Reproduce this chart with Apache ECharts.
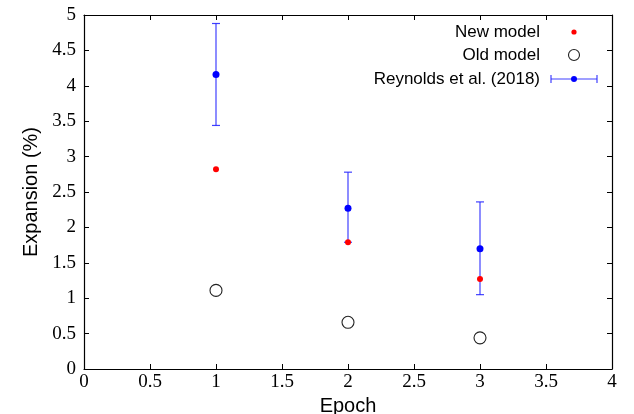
<!DOCTYPE html>
<html><head><meta charset="utf-8">
<script src="https://cdn.jsdelivr.net/npm/echarts@6/dist/echarts.min.js"></script>
<style>html,body{margin:0;padding:0;background:#fff}#c{width:634px;height:414px}</style>
</head><body><div id="c"></div>
<script>
const epochs = [1, 2, 3];
const newModel = [2.82, 1.79, 1.27];
const oldModel = [1.11, 0.66, 0.44];
const reynolds = [4.16, 2.27, 1.70];
const reynoldsLow = [3.44, 1.79, 1.05];
const reynoldsHigh = [4.88, 2.78, 2.36];
const legendNames = ['New model', 'Old model', 'Reynolds et al. (2018)'];

const chart = echarts.init(document.getElementById('c'), null, {renderer: 'canvas'});
const serif = 'Liberation Serif';
const sans = 'Liberation Sans';
const grid = {left: 84, right: 22, top: 15, bottom: 45, outerBoundsMode: 'none', containLabel: false};
const tick = {show: true, inside: true, length: 5, lineStyle: {color: '#000', width: 1}};
const axLine = {show: true, onZero: false, lineStyle: {color: '#000', width: 1.2}};
const errColor = 'rgba(30,30,255,0.85)';
const legFont = '17px "Liberation Sans"';

const errData = epochs.map((e, i) => [e, reynoldsLow[i], reynoldsHigh[i]]);

const option = {
  animation: false,
  grid: grid,
  xAxis: [{
    type: 'value', min: 0, max: 4, interval: 0.5, position: 'bottom',
    axisLine: axLine, axisTick: tick, splitLine: {show: false},
    axisLabel: {color: '#000', fontFamily: serif, fontSize: 19, margin: 4},
    name: 'Epoch', nameLocation: 'middle', nameGap: 23,
    nameTextStyle: {color: '#000', fontFamily: sans, fontSize: 20}
  }, {
    type: 'value', min: 0, max: 4, interval: 0.5, position: 'top',
    axisLine: axLine, axisTick: tick, splitLine: {show: false}, axisLabel: {show: false}
  }],
  yAxis: [{
    type: 'value', min: 0, max: 5, interval: 0.5, position: 'left',
    axisLine: axLine, axisTick: tick, splitLine: {show: false},
    axisLabel: {color: '#000', fontFamily: serif, fontSize: 19, margin: 8},
    name: 'Expansion (%)', nameLocation: 'middle', nameGap: 43,
    nameTextStyle: {color: '#000', fontFamily: sans, fontSize: 20}
  }, {
    type: 'value', min: 0, max: 5, interval: 0.5, position: 'right',
    axisLine: axLine, axisTick: tick, splitLine: {show: false}, axisLabel: {show: false}
  }],
  series: [{
    name: legendNames[2] + ' err', type: 'custom',
    data: errData, z: 2,
    renderItem: function (params, api) {
      const x = api.value(0);
      const lo = api.coord([x, api.value(1)]);
      const hi = api.coord([x, api.value(2)]);
      const w = 4;
      const st = {stroke: errColor, lineWidth: 1.2};
      return {type: 'group', children: [
        {type: 'line', shape: {x1: lo[0], y1: lo[1], x2: hi[0], y2: hi[1]}, style: st},
        {type: 'line', shape: {x1: lo[0] - w, y1: lo[1], x2: lo[0] + w, y2: lo[1]}, style: st},
        {type: 'line', shape: {x1: hi[0] - w, y1: hi[1], x2: hi[0] + w, y2: hi[1]}, style: st}
      ]};
    }
  }, {
    name: legendNames[1], type: 'scatter', z: 3,
    data: epochs.map((e, i) => [e, oldModel[i]]),
    symbol: 'circle', symbolSize: 12,
    itemStyle: {color: 'rgba(0,0,0,0)', borderColor: '#222', borderWidth: 1.1, opacity: 1}
  }, {
    name: legendNames[2], type: 'scatter', z: 4,
    data: epochs.map((e, i) => [e, reynolds[i]]),
    symbol: 'circle', symbolSize: 7, itemStyle: {color: '#0000ff', opacity: 1}
  }, {
    name: legendNames[0], type: 'scatter', z: 5,
    data: epochs.map((e, i) => [e, newModel[i]]),
    symbol: 'circle', symbolSize: 6, itemStyle: {color: '#ff0000', opacity: 1}
  }],
  graphic: [
    {type: 'text', x: 540, y: 32, silent: true, style: {text: legendNames[0], align: 'right', verticalAlign: 'middle', font: legFont, fill: '#000'}},
    {type: 'circle', silent: true, shape: {cx: 574, cy: 32, r: 2.6}, style: {fill: '#ff0000'}},
    {type: 'text', x: 540, y: 55, silent: true, style: {text: legendNames[1], align: 'right', verticalAlign: 'middle', font: legFont, fill: '#000'}},
    {type: 'circle', silent: true, shape: {cx: 574, cy: 55, r: 5.5}, style: {fill: 'none', stroke: '#222', lineWidth: 1.1}},
    {type: 'text', x: 540, y: 79, silent: true, style: {text: legendNames[2], align: 'right', verticalAlign: 'middle', font: legFont, fill: '#000'}},
    {type: 'line', silent: true, shape: {x1: 551, y1: 79, x2: 597, y2: 79}, style: {stroke: errColor, lineWidth: 1.2}},
    {type: 'line', silent: true, shape: {x1: 551, y1: 75, x2: 551, y2: 83}, style: {stroke: errColor, lineWidth: 1.2}},
    {type: 'line', silent: true, shape: {x1: 597, y1: 75, x2: 597, y2: 83}, style: {stroke: errColor, lineWidth: 1.2}},
    {type: 'circle', silent: true, shape: {cx: 574, cy: 79, r: 3}, style: {fill: '#0000ff'}}
  ]
};
chart.setOption(option);
</script>
</body></html>
